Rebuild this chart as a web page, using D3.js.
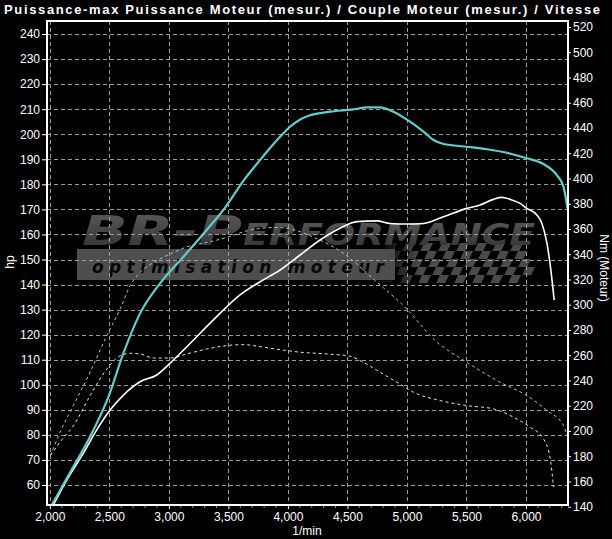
<!DOCTYPE html>
<html><head><meta charset="utf-8">
<script src="https://cdn.jsdelivr.net/npm/d3@7"></script>
<style>
html,body{margin:0;padding:0;background:#000;}
svg{display:block;}
</style></head>
<body>
<svg id="chart" width="612" height="539"></svg>
<script>
// ---------- DATA ----------
const titleText = "Puissance-max Puissance Moteur (mesur.) / Couple Moteur (mesur.) / Vitesse";
const xTicks = [2000, 2500, 3000, 3500, 4000, 4500, 5000, 5500, 6000];
const hpTicks = [60, 70, 80, 90, 100, 110, 120, 130, 140, 150, 160, 170, 180, 190, 200, 210, 220, 230, 240];
const nmTicks = [140, 160, 180, 200, 220, 240, 260, 280, 300, 320, 340, 360, 380, 400, 420, 440, 460, 480, 500, 520];

// tuned power (cyan solid, hp)
const tunedPowerRpm = [2016, 2197, 2338, 2492, 2618, 2758, 2926, 3122, 3318, 3458, 3632, 3766, 3850, 3934, 4018, 4100, 4180, 4355, 4550, 4663, 4775, 4886, 5026, 5139, 5223, 5307, 5503, 5671, 5839, 6007, 6147, 6259, 6315, 6349];
const tunedPowerHp  = [52.0, 67.3, 79.3, 95.2, 112.6, 128.5, 140.5, 151.1, 161.8, 169.8, 181.8, 189.7, 194.5, 199.0, 203.0, 205.8, 207.5, 209.0, 209.9, 210.7, 210.7, 209.0, 205.0, 201.0, 197.7, 196.1, 195.0, 194.0, 192.6, 190.4, 188.1, 183.7, 179.1, 170.4];

// stock power (white solid, hp)
const stockPowerRpm = [2029, 2142, 2282, 2394, 2506, 2618, 2758, 2898, 3038, 3178, 3374, 3598, 3766, 3934, 4102, 4270, 4438, 4579, 4747, 4859, 4999, 5139, 5307, 5503, 5615, 5727, 5797, 5867, 5951, 6007, 6091, 6134, 6176, 6209, 6237];
const stockPowerHp  = [52.0, 62.0, 72.7, 82.0, 89.9, 95.9, 101.2, 103.9, 109.9, 116.5, 125.9, 135.9, 141.1, 145.8, 151.8, 157.8, 162.5, 165.1, 165.4, 164.4, 164.2, 164.4, 167.1, 170.4, 171.8, 174.0, 174.8, 174.0, 172.4, 170.4, 167.8, 164.4, 156.5, 145.8, 133.8];

// tuned torque (cyan dashed, Nm)
const tunedTorqueRpm = [2005, 2086, 2197, 2338, 2478, 2590, 2674, 2758, 2898, 3038, 3178, 3318, 3486, 3655, 3878, 4020, 4187, 4495, 4718, 4999, 5223, 5503, 5783, 6007, 6176, 6315, 6349];
const tunedTorqueNm  = [180.6, 199.1, 220.1, 246.5, 275.5, 296.6, 315.0, 325.6, 334.8, 341.4, 346.7, 349.3, 353.3, 358.5, 361.2, 360.0, 354.6, 338.7, 320.3, 296.6, 272.9, 254.4, 238.6, 228.0, 216.2, 204.3, 195.1];

// stock torque (white dashed, Nm)
const stockTorqueRpm = [2005, 2100, 2197, 2338, 2478, 2590, 2674, 2758, 2870, 3010, 3150, 3318, 3486, 3626, 3766, 3934, 4102, 4327, 4522, 4634, 4775, 4915, 5054, 5279, 5503, 5727, 5895, 6035, 6147, 6204, 6231];
const stockTorqueNm  = [180.6, 193.0, 204.0, 228.0, 249.0, 259.6, 261.5, 261.0, 257.8, 257.8, 261.0, 264.9, 267.6, 268.4, 266.8, 264.4, 262.4, 261.0, 259.2, 254.4, 246.5, 238.6, 230.7, 224.1, 220.1, 217.5, 210.9, 203.0, 193.8, 178.0, 155.6];

// ---------- LAYOUT ----------
const L = 47, R = 568, T = 21, B = 505;
const svg = d3.select("#chart");
svg.append("rect").attr("width", 612).attr("height", 539).attr("fill", "#000");

const x = d3.scaleLinear().domain([1976, 6353]).range([L, R]);
const yHp = d3.scaleLinear().domain([52.02, 245.19]).range([B, T]);
const yNm = d3.scaleLinear().domain([141.35, 524.75]).range([B, T]);

const font = "'Liberation Sans', Arial, sans-serif";

// ---------- LOGO (watermark) ----------
const defs = svg.append("defs");
const grad = defs.append("linearGradient").attr("id", "lg").attr("x1", 0).attr("y1", 0).attr("x2", 0).attr("y2", 1);
grad.append("stop").attr("offset", "0%").attr("stop-color", "#5c5c5c");
grad.append("stop").attr("offset", "100%").attr("stop-color", "#303030");
const fade = defs.append("linearGradient").attr("id", "fade").attr("x1", 0).attr("y1", 0).attr("x2", 1).attr("y2", 0);
fade.append("stop").attr("offset", "0%").attr("stop-color", "#fff").attr("stop-opacity", 0);
fade.append("stop").attr("offset", "25%").attr("stop-color", "#fff").attr("stop-opacity", 1);
fade.append("stop").attr("offset", "100%").attr("stop-color", "#fff").attr("stop-opacity", 1);
defs.append("mask").attr("id", "flagMask").append("rect")
  .attr("x", 380).attr("y", 240).attr("width", 160).attr("height", 50).attr("fill", "url(#fade)");

const logo = svg.append("g");
logo.append("rect").attr("x", 77).attr("y", 249).attr("width", 318).attr("height", 31).attr("fill", "#4e4e4e");
// checkered flag
const flag = logo.append("g").attr("mask", "url(#flagMask)");
const sq = 9;
for (let j = 0; j < 5; j++) {
  for (let i = 0; i < 18; i++) {
    if ((i + j) % 2 === 0) {
      const sx = 380 + i * sq - j * 5 + 8;
      if (sx > 530) continue;
      flag.append("rect").attr("x", sx).attr("y", 243 + j * 8)
        .attr("width", sq).attr("height", 8)
        .attr("transform", `skewX(-25)`)
        .attr("transform-origin", `${sx} ${243 + j * 8}`)
        .attr("fill", "#4a4a4a");
    }
  }
}
logo.append("text").attr("x", 92).attr("y", 273)
  .attr("font-family", "'DejaVu Sans', sans-serif").attr("font-weight", "bold").attr("font-style", "italic")
  .attr("font-size", 17).attr("fill", "#080808")
  .attr("textLength", 292).attr("lengthAdjust", "spacing")
  .text("optimisation moteur");
logo.append("text").attr("x", 82).attr("y", 245)
  .attr("font-family", "'DejaVu Sans', sans-serif").attr("font-weight", "bold").attr("font-style", "italic")
  .attr("font-size", 41).attr("fill", "url(#lg)")
  .attr("textLength", 160).attr("lengthAdjust", "spacingAndGlyphs")
  .text("BR-P");
logo.append("text").attr("x", 243).attr("y", 245)
  .attr("font-family", "'DejaVu Sans', sans-serif").attr("font-weight", "bold").attr("font-style", "italic")
  .attr("font-size", 31).attr("fill", "url(#lg)")
  .attr("textLength", 292).attr("lengthAdjust", "spacingAndGlyphs")
  .text("ERFORMANCE");

// ---------- GRID ----------
const grid = svg.append("g").attr("stroke", "#9c9c9c").attr("stroke-width", 1).attr("stroke-dasharray", "4,3");
grid.selectAll("line.h").data(hpTicks).join("line")
  .attr("x1", L).attr("x2", R).attr("y1", d => Math.round(yHp(d)) + 0.5).attr("y2", d => Math.round(yHp(d)) + 0.5);
grid.selectAll("line.v").data(xTicks).join("line")
  .attr("y1", T).attr("y2", B).attr("x1", d => Math.round(x(d)) + 0.5).attr("x2", d => Math.round(x(d)) + 0.5);

// ---------- CURVES ----------
function drawLine(rpm, vals, yScale, color, width, dash) {
  const pts = rpm.map((r, i) => [x(r), yScale(vals[i])]);
  const p = svg.append("path").datum(pts)
    .attr("d", d3.line().curve(d3.curveMonotoneX))
    .attr("fill", "none").attr("stroke", color).attr("stroke-width", width)
    .attr("stroke-linejoin", "round");
  if (dash) p.attr("stroke-dasharray", dash);
}
drawLine(stockTorqueRpm, stockTorqueNm, yNm, "#e8e8e8", 1, "3,3");
drawLine(tunedTorqueRpm, tunedTorqueNm, yNm, "#8fcfcf", 1, "3,3");
drawLine(stockPowerRpm, stockPowerHp, yHp, "#ffffff", 1.6, null);
drawLine(tunedPowerRpm, tunedPowerHp, yHp, "#63cdcd", 2.2, null);

// ---------- AXES ----------
const axisStyle = g => {
  g.selectAll("path.domain").remove();
  g.selectAll("line").attr("stroke", "#fff");
  g.selectAll("text").attr("fill", "#fff").attr("font-family", font).attr("font-size", 12);
};
svg.append("g").attr("transform", `translate(${L},0)`)
  .call(d3.axisLeft(yHp).tickValues(hpTicks).tickSize(5).tickPadding(2).tickFormat(d3.format("d")))
  .call(axisStyle);
svg.append("g").attr("transform", `translate(${R},0)`)
  .call(d3.axisRight(yNm).tickValues(nmTicks).tickSize(3).tickPadding(2).tickFormat(d3.format("d")))
  .call(axisStyle);
// minor ticks bottom
const minor = d3.range(2000, 6301, 100).filter(v => v % 500 !== 0);
svg.append("g").selectAll("line").data(minor).join("line")
  .attr("x1", d => x(d)).attr("x2", d => x(d)).attr("y1", B).attr("y2", B + 3)
  .attr("stroke", "#888");
svg.append("g").attr("transform", `translate(0,${B})`)
  .call(d3.axisBottom(x).tickValues(xTicks).tickSize(4).tickPadding(3).tickFormat(d3.format(",")))
  .call(axisStyle);

// frame
svg.append("rect").attr("x", L).attr("y", T).attr("width", R - L).attr("height", B - T)
  .attr("fill", "none").attr("stroke", "#fff").attr("stroke-width", 2);

// ---------- TEXT ----------
svg.append("text").attr("x", 4).attr("y", 14)
  .attr("font-family", font).attr("font-weight", "bold").attr("font-size", 13).attr("fill", "#fff")
  .attr("textLength", 596).attr("lengthAdjust", "spacing")
  .text(titleText);
svg.append("text").attr("x", 307).attr("y", 535).attr("text-anchor", "middle")
  .attr("font-family", font).attr("font-size", 12).attr("fill", "#fff").text("1/min");
svg.append("text").attr("transform", "translate(14,262) rotate(-90)").attr("text-anchor", "middle")
  .attr("font-family", font).attr("font-size", 12).attr("fill", "#fff").text("hp");
svg.append("text").attr("transform", "translate(600,268) rotate(90)").attr("text-anchor", "middle")
  .attr("font-family", font).attr("font-size", 12).attr("fill", "#fff").text("Nm (Moteur)");
</script>
</body></html>
